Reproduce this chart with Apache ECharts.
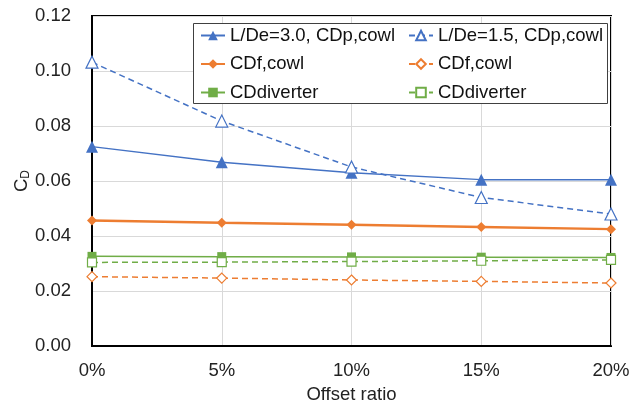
<!DOCTYPE html>
<html><head><meta charset="utf-8">
<script src="https://cdn.jsdelivr.net/npm/echarts@6/dist/echarts.min.js"></script>
<style>html,body{margin:0;padding:0;background:#fff}#c{width:641px;height:408px}</style>
</head><body><div id="c"></div>
<script>
const categories = ['0%', '5%', '10%', '15%', '20%'];
const cdpCowl30 = [0.0725, 0.0668, 0.0630, 0.0605, 0.0605];
const cdpCowl15 = [0.1032, 0.0818, 0.0651, 0.0540, 0.0480];
const cdfCowlA = [0.0456, 0.0448, 0.0441, 0.0433, 0.0425];
const cdfCowlB = [0.0252, 0.0247, 0.0240, 0.0235, 0.0229];
const cdDivA = [0.0326, 0.0325, 0.0324, 0.0323, 0.0322];
const cdDivB = [0.0304, 0.0305, 0.0307, 0.0310, 0.0313];
const yTicks = [0, 0.02, 0.04, 0.06, 0.08, 0.10, 0.12];

const BLUE = '#4472C4', ORANGE = '#ED7D31', GREEN = '#70AD47';
const FONT = 'Liberation Sans, Arial, sans-serif';
const FS = 18.5;

function mk(name, data, color, symbol, size, filled, width, dashed) {
  return {
    name, type: 'line', data, symbol, symbolSize: size, showSymbol: true,
    lineStyle: {color, width, type: dashed ? [6, 4] : 'solid'},
    itemStyle: filled ? {color, borderColor: color, borderWidth: 0} : {color: '#fff', borderColor: color, borderWidth: 1.2},
    emphasis: {disabled: true}, animation: false, z: 2
  };
}

const chart = echarts.init(document.getElementById('c'));
const legendCommon = {
  orient: 'vertical', itemWidth: 24, itemHeight: 12, itemGap: 9.5, z: 10, padding: 0,
  textStyle: {fontFamily: FONT, fontSize: FS, lineHeight: 18, color: '#111'},
  formatter: n => n.trim(), selectedMode: false
};
chart.setOption({
  animation: false,
  grid: {left: 92, right: 30, top: 16, bottom: 62, show: true, borderColor: '#000', borderWidth: 2,
    containLabel: false, outerBoundsMode: 'none'},
  graphic: [{type: 'rect', z: 5, shape: {x: 193.5, y: 23.5, width: 414, height: 80}, style: {fill: '#fff', stroke: '#404040', lineWidth: 1}}],
  legend: [
    Object.assign({left: 200, top: 26, data: ['L/De=3.0, CDp,cowl', 'CDf,cowl', 'CDdiverter']}, legendCommon),
    Object.assign({left: 408, top: 26, data: ['L/De=1.5, CDp,cowl', 'CDf,cowl ', 'CDdiverter ']}, legendCommon)
  ],
  xAxis: {
    type: 'category', data: categories, boundaryGap: false,
    axisLine: {lineStyle: {color: '#000', width: 2}},
    axisTick: {show: false},
    axisLabel: {fontFamily: FONT, fontSize: FS, color: '#222', margin: 15},
    splitLine: {show: true, lineStyle: {color: '#d9d9d9', width: 1}},
    name: 'Offset ratio', nameLocation: 'middle', nameGap: 39, nameMoveOverlap: false,
    nameTextStyle: {fontFamily: FONT, fontSize: FS, color: '#222'}
  },
  yAxis: {
    type: 'value', min: 0, max: 0.12, interval: 0.02,
    axisLine: {show: true, lineStyle: {color: '#000', width: 2}},
    axisTick: {show: false},
    axisLabel: {fontFamily: FONT, fontSize: FS, color: '#222', margin: 21,
      formatter: v => { const i = yTicks.findIndex(t => Math.abs(t - v) < 1e-9); return (i >= 0 ? yTicks[i] : v).toFixed(2); }},
    splitLine: {show: true, lineStyle: {color: '#d9d9d9', width: 1}},
    name: 'C{sub|D}', nameLocation: 'middle', nameGap: 60, nameRotate: 90, nameMoveOverlap: false,
    nameTextStyle: {fontFamily: FONT, fontSize: FS, color: '#222',
      rich: {sub: {fontFamily: FONT, fontSize: 12, color: '#222', verticalAlign: 'bottom', padding: [9, 0, 0, 0]}}}
  },
  series: [
    mk('L/De=3.0, CDp,cowl', cdpCowl30, BLUE, 'triangle', 12, true, 1.5, false),
    mk('L/De=1.5, CDp,cowl', cdpCowl15, BLUE, 'triangle', 12, false, 1.5, true),
    mk('CDf,cowl', cdfCowlA, ORANGE, 'diamond', 10, true, 2.5, false),
    mk('CDf,cowl ', cdfCowlB, ORANGE, 'diamond', 10, false, 1.5, true),
    mk('CDdiverter', cdDivA, GREEN, 'rect', 9, true, 1.5, false),
    mk('CDdiverter ', cdDivB, GREEN, 'rect', 9, false, 1.5, true)
  ]
});
</script></body></html>
